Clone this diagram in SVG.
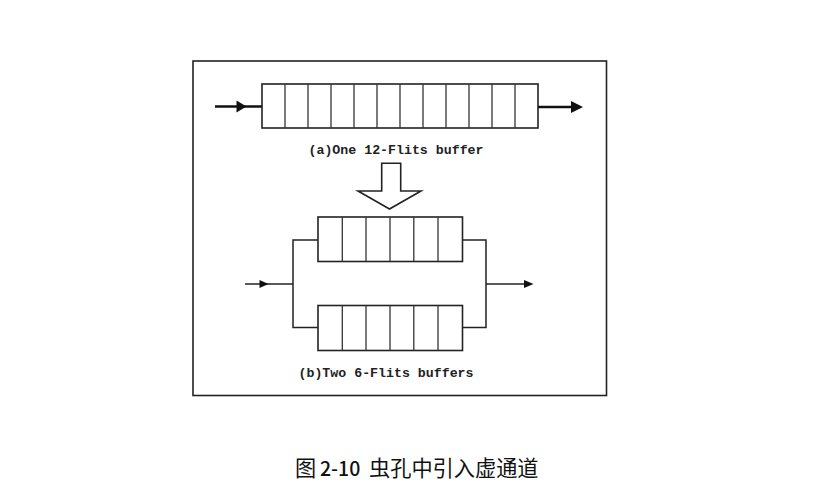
<svg xmlns="http://www.w3.org/2000/svg" width="829" height="489" viewBox="0 0 829 489">
<style>
.frame{fill:none;stroke:#222;stroke-width:1.6}
.buf{fill:#fff;stroke:#222;stroke-width:1.6}
.div{stroke:#333;stroke-width:1.3}
.thick{fill:none;stroke:#111;stroke-width:2.6}
.thin{fill:none;stroke:#222;stroke-width:1.5}
.head{fill:#111;stroke:none}
.lbl{font-family:"Liberation Mono",monospace;font-size:13.5px;font-weight:bold;fill:#222}
.cap{font-family:"Noto Sans CJK SC",sans-serif;font-size:21.2px;fill:#111}
.num{font-size:19.5px;font-weight:500}
</style>
<rect width="829" height="489" fill="#fff"/>
<rect id="frame" class="frame" x="193" y="61" width="413.5" height="334.5"/>
<g id="bufferA">
<rect class="buf" x="262" y="84" width="276" height="44"/>
<g class="div">
<line x1="285" y1="84" x2="285" y2="128"/><line x1="308" y1="84" x2="308" y2="128"/><line x1="331" y1="84" x2="331" y2="128"/><line x1="354" y1="84" x2="354" y2="128"/><line x1="377" y1="84" x2="377" y2="128"/><line x1="400" y1="84" x2="400" y2="128"/><line x1="423" y1="84" x2="423" y2="128"/><line x1="446" y1="84" x2="446" y2="128"/><line x1="469" y1="84" x2="469" y2="128"/><line x1="492" y1="84" x2="492" y2="128"/><line x1="515" y1="84" x2="515" y2="128"/>
</g>
</g>
<text id="labelA" class="lbl" x="396" y="153.5" text-anchor="middle" textLength="175" lengthAdjust="spacingAndGlyphs">(a)One 12-Flits buffer</text>
<g id="transform">
<polygon points="381.7,163.3 400.7,163.3 400.7,191 421,191 389.5,209 358,191 381.7,191" fill="#fff" stroke="#222" stroke-width="1.6"/>
</g>
<g id="bufferB1">
<rect class="buf" x="318" y="217" width="144.5" height="44.5"/>
<g class="div">
<line x1="342.3" y1="217" x2="342.3" y2="261.5"/><line x1="366" y1="217" x2="366" y2="261.5"/><line x1="390" y1="217" x2="390" y2="261.5"/><line x1="413.8" y1="217" x2="413.8" y2="261.5"/><line x1="438" y1="217" x2="438" y2="261.5"/>
</g>
</g>
<g id="bufferB2">
<rect class="buf" x="318" y="305.5" width="144.5" height="45"/>
<g class="div">
<line x1="342.3" y1="305.5" x2="342.3" y2="350.5"/><line x1="366" y1="305.5" x2="366" y2="350.5"/><line x1="390" y1="305.5" x2="390" y2="350.5"/><line x1="413.8" y1="305.5" x2="413.8" y2="350.5"/><line x1="438" y1="305.5" x2="438" y2="350.5"/>
</g>
</g>
<text id="labelB" class="lbl" x="386" y="376.5" text-anchor="middle" textLength="175" lengthAdjust="spacingAndGlyphs">(b)Two 6-Flits buffers</text>
<g id="connectors">
<line class="thick" x1="215" y1="106.5" x2="262" y2="106.5"/>
<polygon class="head" points="236.5,100.5 246.5,106.5 236.5,112.5"/>
<line class="thick" x1="538" y1="107" x2="573" y2="107"/>
<polygon class="head" points="571,101 583,107 571,113"/>
<line class="thin" x1="245" y1="284" x2="293" y2="284"/>
<polygon class="head" points="259.5,280 268.5,284 259.5,288"/>
<polyline class="thin" points="318,240 293,240 293,327.5 318,327.5"/>
<polyline class="thin" points="462.5,240 486,240 486,327.5 462.5,327.5"/>
<line class="thin" x1="486" y1="284" x2="526" y2="284"/>
<polygon class="head" points="524,280 533.5,284 524,288"/>
</g>
<text id="caption" class="cap" y="476"><tspan x="295">图</tspan><tspan class="num" x="320">2-10</tspan><tspan x="369">虫孔中引入虚通道</tspan></text>
</svg>
